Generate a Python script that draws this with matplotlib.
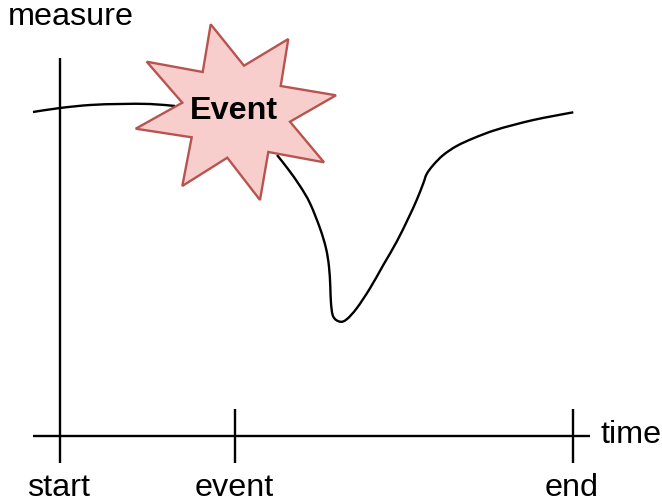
import matplotlib
matplotlib.use("Agg")
import matplotlib.pyplot as plt
from matplotlib.path import Path
from matplotlib.patches import PathPatch

plt.rcParams['font.family'] = ['Liberation Sans', 'DejaVu Sans']

W, H = 662, 504

# curve (pixels, y down)
curve_left_x = [33, 60, 90, 120, 150, 175]
curve_left_y = [112, 108, 105, 104, 104, 106]
curve_right_x = [277, 288, 300, 310, 320, 326, 329, 330.3, 331, 333.3, 340, 346.7, 356.7, 370, 383.3, 396.7, 408.3,
                 416.7, 423.3, 426.7, 433.3, 443.3, 456.7, 473.3, 493.3, 513.3, 533.3, 553.3, 573.3]
curve_right_y = [155, 169, 186, 203.3, 228.3, 248.3, 266.7, 286.7, 303.3, 316.7, 321.7, 319.3, 308.3, 288.3, 265,
                 241.7, 218.3, 200, 183.3, 174, 165, 155, 146, 138.3, 130.7, 125, 120, 116, 112.3]

# star outline
star_x = [146.7, 202.7, 210.7, 244, 288.3, 280.7, 336, 290, 324, 268.3, 260, 227.3, 182.3, 191.7, 135.7, 182.3]
star_y = [61.7, 72, 24.3, 65.7, 39, 86, 95.3, 121.7, 162.3, 152, 200, 157.7, 186, 137.3, 128.7, 102.7]


# smooth line through the read points
def smooth_path(xs, ys):
    verts = [(xs[0], ys[0])]
    codes = [Path.MOVETO]
    n = len(xs)
    for i in range(n - 1):
        x0, y0 = xs[max(i - 1, 0)], ys[max(i - 1, 0)]
        x3, y3 = xs[min(i + 2, n - 1)], ys[min(i + 2, n - 1)]
        c1 = (xs[i] + (xs[i + 1] - x0) / 6, ys[i] + (ys[i + 1] - y0) / 6)
        c2 = (xs[i + 1] - (x3 - xs[i]) / 6, ys[i + 1] - (y3 - ys[i]) / 6)
        verts += [c1, c2, (xs[i + 1], ys[i + 1])]
        codes += [Path.CURVE4] * 3
    return Path(verts, codes)


fig = plt.figure(figsize=(W / 100, H / 100), dpi=100)
ax = fig.add_axes([0, 0, 1, 1])
ax.set_xlim(0, W)
ax.set_ylim(H, 0)
ax.axis('off')

lw = 1.7
# axes
ax.plot([60, 60], [58, 463], color='black', lw=lw, zorder=1, solid_capstyle='butt')
ax.plot([33, 590], [436, 436], color='black', lw=lw, zorder=1, solid_capstyle='butt')
ax.plot([235, 235], [409, 463], color='black', lw=lw, zorder=1, solid_capstyle='butt')
ax.plot([573, 573], [409, 463], color='black', lw=lw, zorder=1, solid_capstyle='butt')

ax.add_patch(PathPatch(smooth_path(curve_left_x, curve_left_y), fill=False, edgecolor='black', lw=lw, zorder=2))
ax.add_patch(PathPatch(smooth_path(curve_right_x, curve_right_y), fill=False, edgecolor='black', lw=lw, zorder=2))

ax.fill(star_x, star_y, facecolor='#f8cecc', edgecolor='#b85450', lw=1.7, zorder=3)
ax.text(234, 111, 'Event', fontsize=23.3, fontweight='bold', ha='center', va='center', zorder=4)

fs = 23.3
ax.text(71, 17, 'measure', fontsize=fs, ha='center', va='center')
ax.text(631, 435, 'time', fontsize=fs, ha='center', va='center')
ax.text(58.5, 488, 'start', fontsize=fs, ha='center', va='center')
ax.text(234, 488, 'event', fontsize=fs, ha='center', va='center')
ax.text(572, 488, 'end', fontsize=fs, ha='center', va='center')

fig.savefig('out.png', dpi=100)
